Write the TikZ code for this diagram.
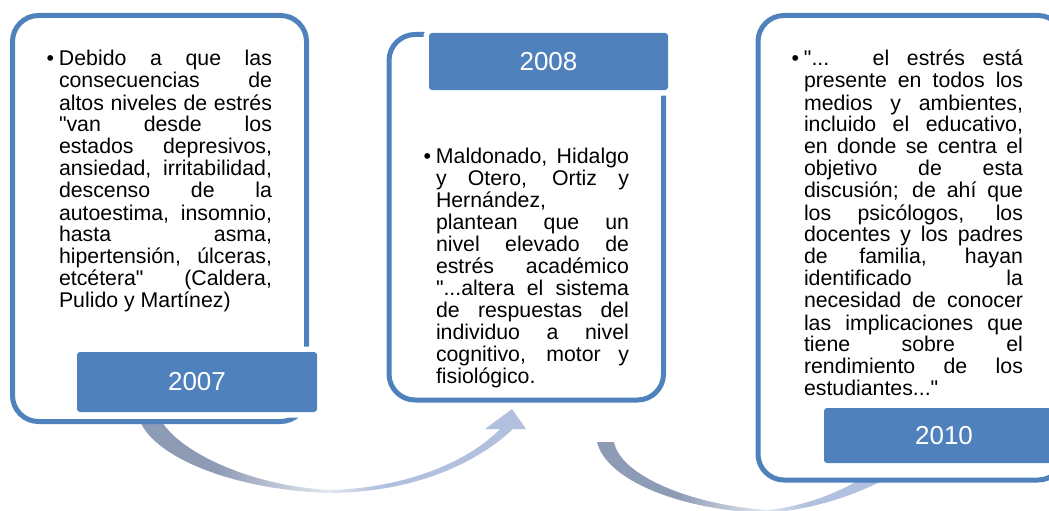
\documentclass[tikz,border=0pt]{standalone}
\usepackage{fontspec}
\setmainfont{Liberation Sans}[Ligatures=TeXOff]
\definecolor{accent}{RGB}{79,129,189}
\definecolor{arrdark}{RGB}{141,155,181}
\definecolor{arrpale}{RGB}{228,232,240}
\definecolor{arrlight}{RGB}{176,192,222}
\pgfdeclarehorizontalshading{arrowA}{100bp}{color(0bp)=(arrdark); color(35bp)=(arrdark); color(49.5bp)=(arrpale); color(56bp)=(arrlight); color(100bp)=(arrlight)}
\pgfdeclarehorizontalshading{arrowB}{100bp}{color(0bp)=(arrdark); color(37.5bp)=(arrdark); color(51.5bp)=(arrpale); color(57.5bp)=(arrlight); color(100bp)=(arrlight)}
\newcommand\jl[1]{\noindent\makebox[\linewidth][s]{#1}\par}
\newcommand\pl[1]{\noindent #1\par}
\newcommand\bul{\llap{\textbullet\hspace{5pt}}}
\tikzset{
  frame/.style={rectangle, draw=accent, line width=5pt, fill=white, rounded corners=26pt, anchor=north west, inner sep=0pt, outer sep=0pt},
  yearbox/.style={rectangle, fill=accent, rounded corners=3pt, anchor=north west, inner sep=0pt, outer sep=0pt, text=white, font=\fontsize{26}{30}\selectfont, preaction={draw=white, line width=11pt}},
  body/.style={anchor=base west, inner sep=0pt, outer sep=0pt},
}
\begin{document}
\begin{tikzpicture}[x=1pt,y=-1pt]
\useasboundingbox (0,0) rectangle (1049,511);
\clip (0,0) rectangle (1049,511);
% curved arrows (behind the boxes)
\shade[shading=arrowA] (139,418) .. controls (150,455) and (230,490) .. (330,493)
  .. controls (420,492) and (480,460) .. (513,429) -- (526,429) -- (512,409) -- (485,429) -- (500,429)
  .. controls (470,460) and (410,487) .. (333,490)
  .. controls (250,487) and (175,450) .. (160,418) -- cycle;
\shade[shading=arrowB] (597,442) .. controls (606,480) and (680,510) .. (765,513)
  .. controls (815,510) and (870,492) .. (910,464) -- (918,452) -- (893,456)
  .. controls (855,488) and (812,505) .. (768,510)
  .. controls (690,505) and (620,475) .. (614,442) -- cycle;
% box 2007
\node[frame, minimum width=294pt, minimum height=406pt] (b1) at (12.5,15.5) {};
\node[yearbox, minimum width=240pt, minimum height=60pt] (y1) at (77,352) {2007};
\node[body] (t1) at (59,66) {\parbox[t]{213pt}{\fontsize{21.3}{22}\selectfont
\jl{\bul Debido a que las}
\jl{consecuencias de}
\jl{altos niveles de estrés}
\jl{"van desde los}
\jl{estados depresivos,}
\jl{ansiedad, irritabilidad,}
\jl{descenso de la}
\jl{autoestima, insomnio,}
\jl{hasta asma,}
\jl{hipertensión, úlceras,}
\jl{etcétera" (Caldera,}
\pl{Pulido y Martínez)}}};
% box 2008
\node[frame, minimum width=274.5pt, minimum height=365.5pt] (b2) at (389,34.5) {};
\node[yearbox, minimum width=239pt, minimum height=57pt] (y2) at (429,33) {2008};
\node[body] (t2) at (436,163) {\parbox[t]{193pt}{\fontsize{21.3}{22}\selectfont
\jl{\bul Maldonado, Hidalgo}
\jl{y Otero, Ortiz y}
\pl{Hernández,}
\jl{plantean que un}
\jl{nivel elevado de}
\jl{estrés académico}
\jl{"...altera el sistema}
\jl{de respuestas del}
\jl{individuo a nivel}
\jl{cognitivo, motor y}
\pl{fisiológico.}}};
% box 2010
\node[frame, minimum width=306pt, minimum height=464.5pt] (b3) at (758,15.5) {};
\node[yearbox, minimum width=240pt, minimum height=55pt] (y3) at (824,408) {2010};
\node[body] (t3) at (804,66) {\parbox[t]{219pt}{\fontsize{21.3}{22}\selectfont
\jl{\bul "... el estrés está}
\jl{presente en todos los}
\jl{medios y ambientes,}
\jl{incluido el educativo,}
\jl{en donde se centra el}
\jl{objetivo de esta}
\jl{discusión; de ahí que}
\jl{los psicólogos, los}
\jl{docentes y los padres}
\jl{de familia, hayan}
\jl{identificado la}
\jl{necesidad de conocer}
\jl{las implicaciones que}
\jl{tiene sobre el}
\jl{rendimiento de los}
\pl{estudiantes..."}}};
\end{tikzpicture}
\end{document}
